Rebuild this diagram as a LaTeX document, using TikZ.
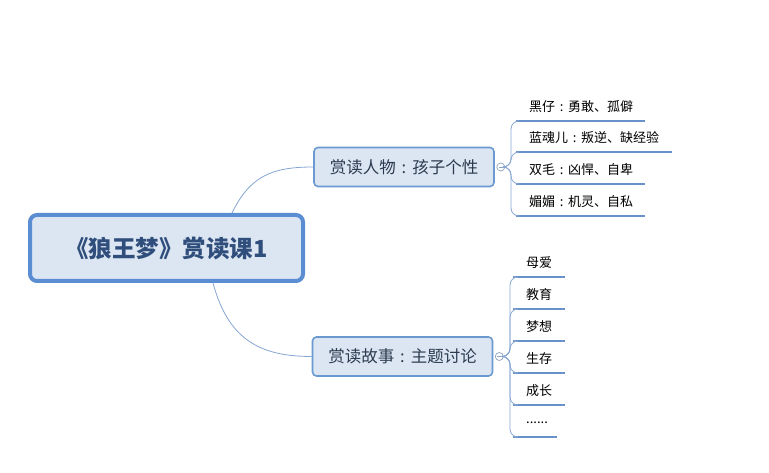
\documentclass[tikz,border=0pt]{standalone}
\usepackage{fontspec}
\setmainfont{Noto Sans CJK SC}
\newcommand{\midcolon}{\makebox[1em][c]{:}}
\begin{document}
\begin{tikzpicture}[x=1pt,y=-1pt,
  centralbox/.style={draw=cblue, line width=4pt, fill=cfill, rounded corners=7pt,
    minimum width=273pt, minimum height=66pt, text=ctext, font=\fontsize{23.5}{27}\selectfont\bfseries},
  topicbox/.style={draw=tblue, line width=1.6pt, fill=cfill, rounded corners=4pt,
    minimum width=180pt, minimum height=39pt, text=ttext, font=\fontsize{16.5}{19}\selectfont},
  leafbox/.style={anchor=south west, inner xsep=13pt, inner ysep=0pt, minimum height=29pt,
    align=left, font=\fontsize{13}{15}\selectfont, text=black},
  underline/.style={draw=lblue, line width=2.6pt},
  conn/.style={draw=kblue, line width=0.8pt},
  fold/.style={circle, draw=fgray, line width=0.7pt, fill=white, minimum size=8pt, inner sep=0pt},
]
\definecolor{cblue}{HTML}{5B8DD3}
\definecolor{cfill}{HTML}{DCE6F3}
\definecolor{ctext}{HTML}{2F4E7C}
\definecolor{tblue}{HTML}{6A98D0}
\definecolor{ttext}{HTML}{2B3A4E}
\definecolor{lblue}{HTML}{6891CC}
\definecolor{kblue}{HTML}{86A6D2}
\definecolor{fgray}{HTML}{8FA3BF}
\useasboundingbox (0,0) rectangle (769,473);

\coordinate (ctop) at (232,213);
\coordinate (cbot) at (213,283);
\node[centralbox] (c) at (166.5,248) {《狼王梦》赏读课1};
\node[topicbox] (t1) at (404,167) {赏读人物\midcolon 孩子个性};
\node[topicbox] (t2) at (402.5,356.5) {赏读故事\midcolon 主题讨论};
\draw[conn] (ctop) .. controls (250,176) and (272,167) .. (t1.west);
\draw[conn] (cbot) .. controls (228,338) and (258,356.5) .. (t2.west);

% fold markers
\node[fold] (f1) at ([xshift=6pt]t1.east) {};
\node[fold] (f2) at ([xshift=6pt]t2.east) {};
\draw[fgray, line width=0.6pt] ([xshift=-2.2pt]f1.center) -- ([xshift=2.2pt]f1.center);
\draw[fgray, line width=0.6pt] ([xshift=-2.2pt]f2.center) -- ([xshift=2.2pt]f2.center);

% top group leaves
\node[leafbox, text width=103pt] (a1) at (516,121) {黑仔\midcolon 勇敢、孤僻};
\node[leafbox, text width=130pt] (a2) at (516,152) {蓝魂儿\midcolon 叛逆、缺经验};
\node[leafbox, text width=103pt] (a3) at (516,184) {双毛\midcolon 凶悍、自卑};
\node[leafbox, text width=103pt] (a4) at (516,216) {媚媚\midcolon 机灵、自私};
\foreach \n in {a1,a2,a3,a4}{
  \draw[underline] (\n.south west) -- (\n.south east);
  \draw[conn, rounded corners=8pt] (f1.east) -- ([xshift=-5pt]f1.east -| \n.south west) -- ([xshift=-5pt]\n.south west) -- (\n.south west);
}

% bottom group leaves
\node[leafbox, text width=26pt] (b1) at (513,277) {母爱};
\node[leafbox, text width=26pt] (b2) at (513,309) {教育};
\node[leafbox, text width=26pt] (b3) at (513,341) {梦想};
\node[leafbox, text width=26pt] (b4) at (513,373) {生存};
\node[leafbox, text width=26pt] (b5) at (513,405) {成长};
\node[leafbox, text width=18pt] (b6) at (513,437) {......};
\foreach \n in {b1,b2,b3,b4,b5,b6}{
  \draw[underline] (\n.south west) -- (\n.south east);
  \draw[conn, rounded corners=8pt] (f2.east) -- ([xshift=-3pt]f2.east -| \n.south west) -- ([xshift=-3pt]\n.south west) -- (\n.south west);
}
\end{tikzpicture}
\end{document}
